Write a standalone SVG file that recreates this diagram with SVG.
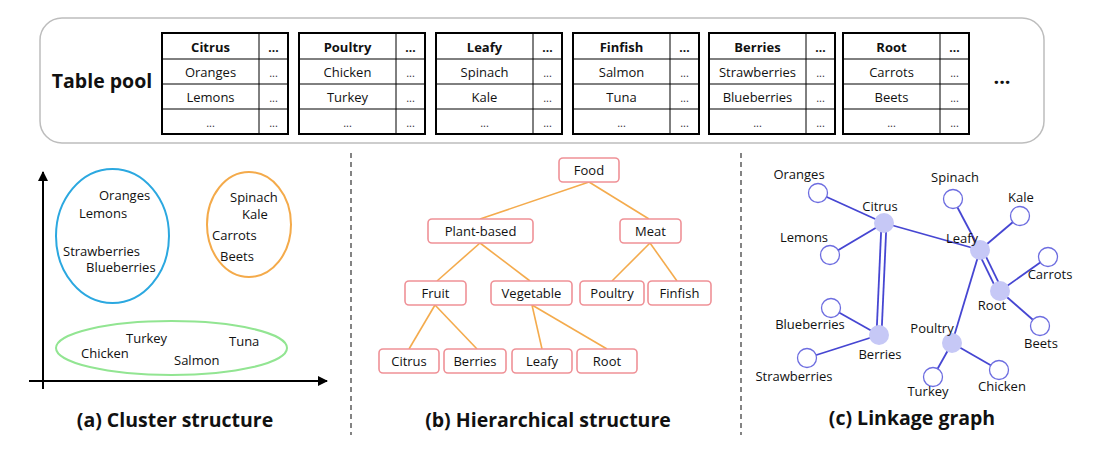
<svg xmlns="http://www.w3.org/2000/svg" width="1105" height="460" viewBox="0 0 1105 460">
<defs>
<style>
text{font-family:"Open Sans","Noto Sans","DejaVu Sans",sans-serif;fill:#111}
.t{font-size:13px;text-anchor:middle}
.tb{font-size:13px;font-weight:bold;text-anchor:middle}
.dots{font-size:11px;text-anchor:middle;fill:#333}
.dotsb{font-size:12px;font-weight:bold;text-anchor:middle}
.cap{font-size:19.5px;font-weight:bold;text-anchor:middle}
.lbl{font-size:13px}
.lblm{font-size:13px;text-anchor:middle}
.tbl-outer{fill:#fff;stroke:#000;stroke-width:2}
.tbl-in{stroke:#000;stroke-width:1}
.hnode{fill:#fff;stroke:#ef9197;stroke-width:1.6}
.hedge{stroke:#f4ab4d;stroke-width:1.6;fill:none}
.ledge{stroke:#4646d2;stroke-width:1.8;fill:none}
.leaf{fill:#fff;stroke:#6d6de0;stroke-width:1.3}
.hub{fill:#c6c8f6;stroke:none}
.sep{stroke:#333;stroke-width:1.2;stroke-dasharray:5 4}
.axis{stroke:#000;stroke-width:2}
</style>
<marker id="arr" viewBox="0 0 10 10" refX="9" refY="5" markerWidth="5" markerHeight="5" orient="auto" markerUnits="strokeWidth">
<path d="M0,0 L10,5 L0,10 z" fill="#000"/>
</marker>
<g id="tbl">
<rect class="tbl-outer" x="0" y="0" width="126" height="101"/>
<line class="tbl-in" x1="97" y1="0" x2="97" y2="101"/>
<line class="tbl-in" x1="0" y1="26" x2="126" y2="26"/>
<line class="tbl-in" x1="0" y1="51" x2="126" y2="51"/>
<line class="tbl-in" x1="0" y1="76" x2="126" y2="76"/>
<text class="dotsb" x="111.5" y="19">...</text>
<text class="dots" x="111.5" y="44">...</text>
<text class="dots" x="111.5" y="69">...</text>
<text class="dots" x="111.5" y="94">...</text>
<text class="dots" x="48.5" y="94">...</text>
</g>
</defs>
<rect width="1105" height="460" fill="#fff"/>

<g id="table-pool">
<rect x="40" y="18" width="1004" height="125" rx="22" ry="22" fill="#fff" stroke="#bdbdbd" stroke-width="1.5"/>
<text x="102" y="88" style="font-size:19.5px;font-weight:bold;text-anchor:middle">Table pool</text>
<text x="1002" y="84" style="font-size:20px;font-weight:bold;text-anchor:middle">...</text>
</g>
<g id="table-citrus" transform="translate(162,33)">
<use href="#tbl"/>
<text class="tb" x="48.5" y="19">Citrus</text><text class="t" x="48.5" y="44">Oranges</text><text class="t" x="48.5" y="69">Lemons</text>
</g>
<g id="table-poultry" transform="translate(299,33)">
<use href="#tbl"/>
<text class="tb" x="48.5" y="19">Poultry</text><text class="t" x="48.5" y="44">Chicken</text><text class="t" x="48.5" y="69">Turkey</text>
</g>
<g id="table-leafy" transform="translate(436,33)">
<use href="#tbl"/>
<text class="tb" x="48.5" y="19">Leafy</text><text class="t" x="48.5" y="44">Spinach</text><text class="t" x="48.5" y="69">Kale</text>
</g>
<g id="table-finfish" transform="translate(573,33)">
<use href="#tbl"/>
<text class="tb" x="48.5" y="19">Finfish</text><text class="t" x="48.5" y="44">Salmon</text><text class="t" x="48.5" y="69">Tuna</text>
</g>
<g id="table-berries" transform="translate(709,33)">
<use href="#tbl"/>
<text class="tb" x="48.5" y="19">Berries</text><text class="t" x="48.5" y="44">Strawberries</text><text class="t" x="48.5" y="69">Blueberries</text>
</g>
<g id="table-root" transform="translate(843,33)">
<use href="#tbl"/>
<text class="tb" x="48.5" y="19">Root</text><text class="t" x="48.5" y="44">Carrots</text><text class="t" x="48.5" y="69">Beets</text>
</g>

<g id="separators">
<line class="sep" x1="351" y1="153" x2="351" y2="435"/>
<line class="sep" x1="741" y1="153" x2="741" y2="435"/>
</g>

<!-- (a) Cluster structure -->
<g id="cluster-axes">
<line class="axis" x1="43" y1="389" x2="43" y2="172" marker-end="url(#arr)"/>
<line class="axis" x1="29" y1="381" x2="327" y2="381" marker-end="url(#arr)"/>
</g>
<g id="cluster-fruit">
<ellipse cx="112.5" cy="236" rx="56.5" ry="67" fill="none" stroke="#2ba8e0" stroke-width="2"/>
<text class="lbl" x="99" y="200">Oranges</text>
<text class="lbl" x="79" y="218">Lemons</text>
<text class="lbl" x="63" y="256">Strawberries</text>
<text class="lbl" x="86" y="272">Blueberries</text>
</g>
<g id="cluster-veg">
<ellipse cx="249" cy="224.5" rx="42" ry="52.5" fill="none" stroke="#f4aa4a" stroke-width="2"/>
<text class="lbl" x="230" y="202">Spinach</text>
<text class="lbl" x="242" y="219">Kale</text>
<text class="lbl" x="212" y="240">Carrots</text>
<text class="lbl" x="220" y="261">Beets</text>
</g>
<g id="cluster-meat">
<ellipse cx="171.5" cy="348" rx="115.5" ry="27" fill="none" stroke="#92e592" stroke-width="2"/>
<text class="lbl" x="126" y="343">Turkey</text>
<text class="lbl" x="81" y="358">Chicken</text>
<text class="lbl" x="174" y="365">Salmon</text>
<text class="lbl" x="229" y="346">Tuna</text>
</g>
<text class="cap" x="175" y="427">(a) Cluster structure</text>

<!-- (b) Hierarchical structure -->
<g id="hier-edges">
<line class="hedge" x1="589" y1="182" x2="480" y2="219"/>
<line class="hedge" x1="589" y1="182" x2="649" y2="219"/>
<line class="hedge" x1="480" y1="243" x2="437" y2="281"/>
<line class="hedge" x1="480" y1="243" x2="530" y2="281"/>
<line class="hedge" x1="650" y1="243" x2="612" y2="281"/>
<line class="hedge" x1="650" y1="243" x2="677" y2="281"/>
<line class="hedge" x1="435" y1="305" x2="409" y2="349"/>
<line class="hedge" x1="435" y1="305" x2="477" y2="349"/>
<line class="hedge" x1="532" y1="305" x2="542" y2="349"/>
<line class="hedge" x1="532" y1="305" x2="607" y2="349"/>
</g>
<g id="h-food"><rect class="hnode" x="559" y="158" width="60" height="24" rx="4"/><text class="lblm" x="589" y="175">Food</text></g>
<g id="h-plant"><rect class="hnode" x="428" y="219" width="105" height="24" rx="4"/><text class="lblm" x="480.5" y="236">Plant-based</text></g>
<g id="h-meat"><rect class="hnode" x="620" y="219" width="61" height="24" rx="4"/><text class="lblm" x="650.5" y="236">Meat</text></g>
<g id="h-fruit"><rect class="hnode" x="405" y="281" width="61" height="24" rx="4"/><text class="lblm" x="435.5" y="298">Fruit</text></g>
<g id="h-vegetable"><rect class="hnode" x="491" y="281" width="81" height="24" rx="4"/><text class="lblm" x="531.5" y="298">Vegetable</text></g>
<g id="h-poultry"><rect class="hnode" x="580" y="281" width="64" height="24" rx="4"/><text class="lblm" x="612" y="298">Poultry</text></g>
<g id="h-finfish"><rect class="hnode" x="648" y="281" width="63" height="24" rx="4"/><text class="lblm" x="679.5" y="298">Finfish</text></g>
<g id="h-citrus"><rect class="hnode" x="379" y="349" width="60" height="24" rx="4"/><text class="lblm" x="409" y="366">Citrus</text></g>
<g id="h-berries"><rect class="hnode" x="444" y="349" width="62" height="24" rx="4"/><text class="lblm" x="475" y="366">Berries</text></g>
<g id="h-leafy"><rect class="hnode" x="512" y="349" width="60" height="24" rx="4"/><text class="lblm" x="542" y="366">Leafy</text></g>
<g id="h-root"><rect class="hnode" x="577" y="349" width="60" height="24" rx="4"/><text class="lblm" x="607" y="366">Root</text></g>
<text class="cap" x="548" y="427">(b) Hierarchical structure</text>

<!-- (c) Linkage graph -->
<g id="link-edges">
<line class="ledge" x1="818" y1="193" x2="884" y2="223"/>
<line class="ledge" x1="830" y1="255" x2="884" y2="223"/>
<line class="ledge" x1="884" y1="223" x2="980" y2="250"/>
<line class="ledge" x1="881.5" y1="223" x2="876.5" y2="335"/>
<line class="ledge" x1="886.5" y1="223" x2="881.5" y2="335"/>
<line class="ledge" x1="953" y1="199" x2="980" y2="250"/>
<line class="ledge" x1="1020" y1="216" x2="980" y2="250"/>
<line class="ledge" x1="982.2" y1="248.9" x2="1002.2" y2="289.9"/>
<line class="ledge" x1="977.8" y1="251.1" x2="997.8" y2="292.1"/>
<line class="ledge" x1="1048" y1="257" x2="1000" y2="291"/>
<line class="ledge" x1="1000" y1="291" x2="1040" y2="326"/>
<line class="ledge" x1="980" y1="250" x2="952" y2="343"/>
<line class="ledge" x1="831" y1="308" x2="879" y2="335"/>
<line class="ledge" x1="807" y1="358" x2="879" y2="335"/>
<line class="ledge" x1="952" y1="343" x2="933" y2="377"/>
<line class="ledge" x1="952" y1="343" x2="999" y2="370"/>
</g>
<g id="n-oranges"><circle class="leaf" cx="818" cy="193" r="9.5"/><text class="lblm" x="799" y="179">Oranges</text></g>
<g id="n-lemons"><circle class="leaf" cx="830" cy="255" r="9.5"/><text class="lblm" x="804" y="242">Lemons</text></g>
<g id="n-spinach"><circle class="leaf" cx="953" cy="199" r="9.5"/><text class="lblm" x="955" y="182">Spinach</text></g>
<g id="n-kale"><circle class="leaf" cx="1020" cy="216" r="9.5"/><text class="lblm" x="1021" y="202">Kale</text></g>
<g id="n-carrots"><circle class="leaf" cx="1048" cy="257" r="9.5"/><text class="lblm" x="1050" y="279">Carrots</text></g>
<g id="n-beets"><circle class="leaf" cx="1040" cy="326" r="9.5"/><text class="lblm" x="1041" y="348">Beets</text></g>
<g id="n-blueberries"><circle class="leaf" cx="831" cy="308" r="9.5"/><text class="lblm" x="810" y="329">Blueberries</text></g>
<g id="n-strawberries"><circle class="leaf" cx="807" cy="358" r="9.5"/><text class="lblm" x="794" y="381">Strawberries</text></g>
<g id="n-turkey"><circle class="leaf" cx="933" cy="377" r="9.5"/><text class="lblm" x="928" y="396">Turkey</text></g>
<g id="n-chicken"><circle class="leaf" cx="999" cy="370" r="9.5"/><text class="lblm" x="1002" y="391">Chicken</text></g>
<g id="n-citrus"><circle class="hub" cx="884" cy="223" r="10"/><text class="lblm" x="880" y="211">Citrus</text></g>
<g id="n-leafy"><circle class="hub" cx="980" cy="250" r="10"/><text class="lblm" x="962" y="243">Leafy</text></g>
<g id="n-root"><circle class="hub" cx="1000" cy="291" r="10"/><text class="lblm" x="992" y="310">Root</text></g>
<g id="n-berries"><circle class="hub" cx="879" cy="335" r="10"/><text class="lblm" x="880" y="359">Berries</text></g>
<g id="n-poultry"><circle class="hub" cx="952" cy="343" r="10"/><text class="lblm" x="932" y="333">Poultry</text></g>
<text class="cap" x="912" y="425">(c) Linkage graph</text>
</svg>
